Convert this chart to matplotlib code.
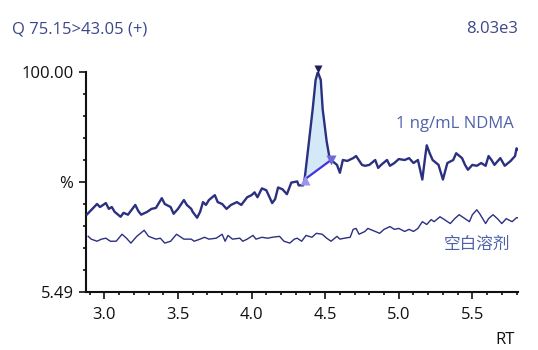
import matplotlib
matplotlib.use("Agg")
import matplotlib.pyplot as plt
import numpy as np
from matplotlib.ticker import FixedLocator, MultipleLocator

plt.rcParams["font.family"] = ["Open Sans", "Noto Sans CJK SC", "DejaVu Sans"]

# ── 数据 ──────────────────────────────────────────
TITLE = "Q 75.15>43.05 (+)"
INTENSITY = "8.03e3"
Y_MIN, Y_MAX = 5.49, 100.0

# 1 ng/mL NDMA 通道 (RT, %)
NDMA_RT = [
    2.88, 2.95, 2.97, 3.01, 3.03, 3.05, 3.07, 3.11, 3.13, 3.16, 3.21, 3.23,
    3.25, 3.29, 3.32, 3.35, 3.39, 3.41, 3.45, 3.47, 3.50, 3.54, 3.56, 3.59,
    3.60, 3.63, 3.65, 3.67, 3.69, 3.71, 3.75, 3.77, 3.80, 3.83, 3.86, 3.90,
    3.93, 3.97, 4.00, 4.02, 4.04, 4.07, 4.10, 4.14, 4.16, 4.18, 4.21, 4.24,
    4.27, 4.31, 4.32, 4.35, 4.36, 4.39, 4.415, 4.435, 4.45, 4.47, 4.483,
    4.51, 4.53, 4.54, 4.58, 4.60, 4.62, 4.65, 4.69, 4.71, 4.75, 4.77, 4.80,
    4.84, 4.86, 4.88, 4.92, 4.94, 4.97, 5.00, 5.04, 5.07, 5.10, 5.13, 5.16,
    5.18, 5.19, 5.21, 5.23, 5.27, 5.30, 5.33, 5.37, 5.39, 5.43, 5.45, 5.47,
    5.50, 5.53, 5.56, 5.59, 5.61, 5.63, 5.65, 5.69, 5.72, 5.76, 5.79, 5.80,
    5.82,
]
NDMA_PCT = [
    38.7, 43.3, 42.0, 43.7, 41.2, 42.0, 39.9, 37.8, 39.5, 38.7, 42.9, 40.3,
    38.7, 39.9, 41.2, 41.6, 45.8, 43.3, 42.0, 39.1, 41.2, 45.0, 42.9, 41.2,
    39.9, 37.4, 39.9, 44.1, 42.9, 45.0, 47.1, 44.1, 43.3, 41.2, 42.9, 44.1,
    42.9, 46.2, 47.1, 48.3, 46.2, 50.0, 49.2, 43.7, 45.4, 50.4, 49.6, 47.5,
    52.5, 53.0, 51.3, 51.3, 53.8, 70.2, 84.0, 96.6, 100.0, 96.6, 84.0,
    70.2, 63.0, 62.2, 60.1, 56.7, 62.2, 61.8, 63.0, 63.9, 60.1, 59.7, 60.1,
    62.2, 58.8, 60.1, 62.2, 59.7, 60.9, 62.6, 62.2, 63.0, 60.9, 62.2, 53.8,
    63.9, 68.5, 65.1, 62.2, 60.1, 53.8, 60.9, 62.2, 65.1, 63.0, 60.1, 58.0,
    60.1, 59.7, 60.9, 59.7, 63.9, 62.2, 60.1, 63.0, 59.7, 61.8, 63.9, 67.2,
    66.0,
]

# 空白溶剂通道 (RT, %)
BLANK_RT = [
    2.89, 2.91, 2.95, 2.98, 3.01, 3.04, 3.08, 3.12, 3.15, 3.18, 3.22, 3.27,
    3.30, 3.35, 3.38, 3.41, 3.45, 3.49, 3.54, 3.59, 3.61, 3.65, 3.68, 3.71,
    3.76, 3.80, 3.82, 3.84, 3.87, 3.92, 3.94, 3.97, 4.01, 4.03, 4.07, 4.11,
    4.14, 4.19, 4.22, 4.26, 4.29, 4.31, 4.34, 4.37, 4.41, 4.44, 4.48, 4.51,
    4.54, 4.58, 4.60, 4.63, 4.67, 4.69, 4.71, 4.73, 4.77, 4.79, 4.84, 4.87,
    4.90, 4.94, 4.97, 5.00, 5.04, 5.07, 5.10, 5.13, 5.16, 5.19, 5.22, 5.24,
    5.28, 5.31, 5.35, 5.38, 5.41, 5.45, 5.48, 5.50, 5.53, 5.55, 5.59, 5.61,
    5.64, 5.67, 5.70, 5.73, 5.77, 5.80, 5.82,
]
BLANK_PCT = [
    29.4, 28.2, 27.3, 28.2, 28.6, 27.3, 27.3, 30.3, 28.6, 26.5, 29.4, 32.0,
    29.4, 28.2, 28.6, 26.5, 27.3, 30.3, 28.2, 28.2, 27.3, 28.2, 29.0, 28.2,
    28.6, 30.3, 27.3, 29.8, 28.2, 28.6, 27.3, 28.2, 29.8, 28.2, 29.0, 28.6,
    29.0, 29.4, 27.3, 26.5, 28.2, 28.6, 27.3, 29.8, 29.0, 30.7, 30.3, 28.6,
    27.3, 29.4, 28.2, 28.6, 29.0, 32.4, 32.8, 30.3, 31.5, 32.8, 31.5, 30.7,
    32.4, 33.6, 32.4, 32.8, 31.5, 32.4, 31.5, 32.8, 35.7, 34.5, 36.6, 35.7,
    37.8, 36.6, 34.9, 37.0, 38.7, 37.0, 35.7, 38.7, 40.8, 39.1, 34.9, 37.0,
    38.7, 37.0, 34.9, 37.0, 35.7, 37.4, 37.4,
]

# 积分峰：起点、顶点、终点
PEAK_START = (4.36, 53.8)
PEAK_APEX = (4.45, 100.0)
PEAK_END = (4.54, 62.2)

NAVY = "#2b3080"
LABEL_BLUE = "#5062aa"

fig = plt.figure(figsize=(5.38, 3.5), dpi=100)
ax = fig.add_axes([86 / 538, 58 / 350, 432 / 538, 220 / 350])

# 基线与峰面积填充
rt = np.array(NDMA_RT)
pct = np.array(NDMA_PCT)
in_peak = (rt >= PEAK_START[0]) & (rt <= PEAK_END[0])
base = np.interp(rt[in_peak], [PEAK_START[0], PEAK_END[0]], [PEAK_START[1], PEAK_END[1]])
ax.fill_between(rt[in_peak], base, pct[in_peak], color="#d4e9f7", lw=0, zorder=1)

ax.plot(BLANK_RT, BLANK_PCT, color=NAVY, lw=1.0, zorder=2)
ax.plot(NDMA_RT, NDMA_PCT, color=NAVY, lw=1.7, zorder=3)
ax.plot([PEAK_START[0], PEAK_END[0]], [PEAK_START[1], PEAK_END[1]],
        color="#4a2fe0", lw=1.6, zorder=4)
ax.plot(*PEAK_START, marker="^", ms=7, color="#9a96ea", mec="none", zorder=5)
ax.plot(*PEAK_END, marker="v", ms=7, color="#6e68d8", mec="none", zorder=5)
ax.plot(PEAK_APEX[0], PEAK_APEX[1] + 1.5, marker="v", ms=6, color="#1c1f5a",
        mec="none", zorder=5, clip_on=False)

ax.text(5.38, 77.5, "1 ng/mL NDMA", color=LABEL_BLUE, fontsize=12, ha="center", va="center")
ax.text(5.53, 25.5, "空白溶剂", color=LABEL_BLUE, fontsize=12, ha="center", va="center")

# 坐标轴
ax.set_xlim(2.875, 5.81)
ax.set_ylim(Y_MIN, Y_MAX)
ax.xaxis.set_major_locator(MultipleLocator(0.5))
ax.xaxis.set_minor_locator(MultipleLocator(0.1))
ax.xaxis.set_major_formatter(matplotlib.ticker.FormatStrFormatter("%.1f"))
step = (Y_MAX - Y_MIN) / 10
ax.yaxis.set_major_locator(FixedLocator([Y_MIN, Y_MIN + 5 * step, Y_MAX]))
ax.set_yticklabels(["5.49", "%", "100.00"])
ax.yaxis.set_minor_locator(FixedLocator([Y_MIN + k * step for k in range(1, 10) if k != 5]))
ax.tick_params(which="major", length=5, width=1.2, labelsize=12, colors="#111111")
ax.tick_params(axis="x", which="major", pad=6)
ax.tick_params(axis="y", which="major", pad=4)
ax.tick_params(which="minor", length=2.5, width=1.2, colors="#111111")
for s in ("top", "right"):
    ax.spines[s].set_visible(False)
for s in ("left", "bottom"):
    ax.spines[s].set_linewidth(1.5)
    ax.spines[s].set_color("#111111")

fig.text(12 / 538, 1 - 29 / 350, TITLE, color="#3b4788", fontsize=12, va="center", ha="left")
fig.text(518 / 538, 1 - 29 / 350, INTENSITY, color="#3b4788", fontsize=12, va="center", ha="right")
fig.text(505 / 538, 1 - 340 / 350, "RT", color="#111111", fontsize=12, va="center", ha="center")

fig.savefig("out.png", dpi=100)
